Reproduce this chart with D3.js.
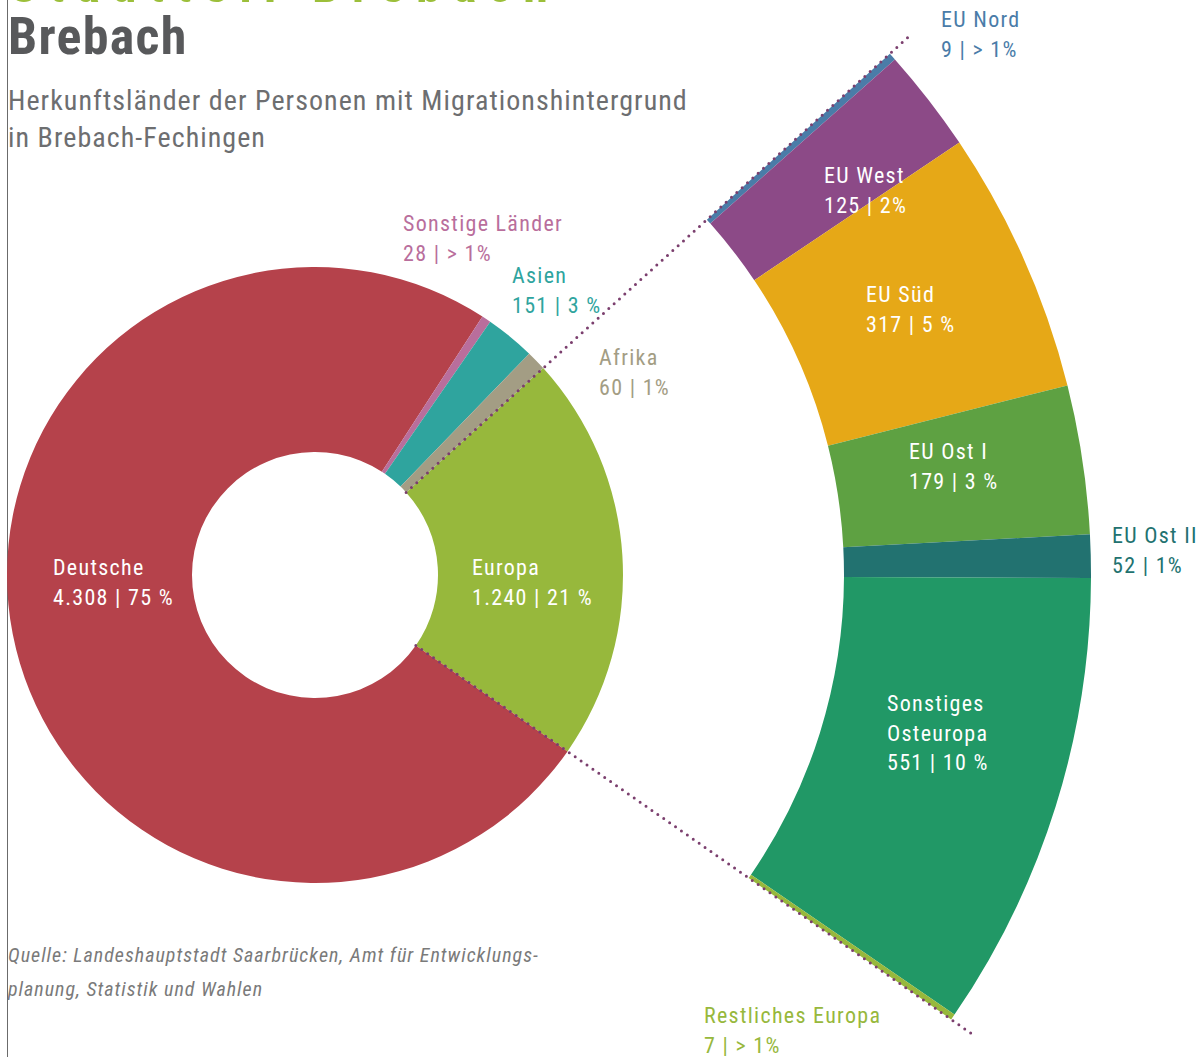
<!DOCTYPE html>
<html>
<head>
<meta charset="utf-8">
<script src="https://cdnjs.cloudflare.com/ajax/libs/d3/7.8.5/d3.min.js"></script>
<style>
  body { margin: 0; background: #fff; }
  svg { display: block; }
  svg text { font-family: "Liberation Sans Narrow", "Roboto Condensed", Roboto, sans-serif; }
</style>
</head>
<body>
<div id="chart"></div>
<script>
// inner ring: Herkunft
var herkunft = ["Europa", "Deutsche", "Sonstige Länder", "Asien", "Afrika"];
var herkunftWerte = [1240, 4308, 28, 151, 60];
var herkunftProzent = ["21 %", "75 %", "> 1%", "3 %", "1%"];
var herkunftZahl = ["1.240", "4.308", "28", "151", "60"];

// outer ring: Europa aufgeteilt
var europa = ["EU Nord", "EU West", "EU Süd", "EU Ost I", "EU Ost II", "Sonstiges Osteuropa", "Restliches Europa"];
var europaWerte = [9, 125, 317, 179, 52, 551, 7];
var europaProzent = ["> 1%", "2%", "5 %", "3 %", "1%", "10 %", "> 1%"];

var farbeInnen = ["#97b83c", "#b5424b", "#b96e9c", "#2fa49e", "#a39d84"];
var farbeAussen = ["#4a7ca8", "#8c4a87", "#e6a817", "#5ea142", "#227270", "#219866", "#97b83c"];

var width = 1202, height = 1057;
var cx = 315, cy = 575;
var deg = Math.PI / 180;

var svg = d3.select("#chart").append("svg")
  .attr("width", width)
  .attr("height", height);

// left rule
svg.append("line")
  .attr("x1", 7.5).attr("x2", 7.5)
  .attr("y1", 0).attr("y2", height)
  .attr("stroke", "#6b6b6b")
  .attr("stroke-width", 1);

// headline above, cut off by the page edge
svg.append("text")
  .text("Stadtteil Brebach")
  .attr("x", 10).attr("y", 1.5)
  .attr("font-size", 50).attr("font-weight", "bold")
  .attr("letter-spacing", 12)
  .attr("fill", "#9cbf3a");

svg.append("text")
  .text("Brebach")
  .attr("x", 8).attr("y", 54)
  .attr("font-size", 52).attr("font-weight", "bold")
  .attr("letter-spacing", 1.3)
  .attr("fill", "#58595b");

svg.selectAll(".sub")
  .data(["Herkunftsländer der Personen mit Migrationshintergrund", "in Brebach-Fechingen"])
  .enter().append("text")
  .attr("class", "sub")
  .text(function(d) { return d; })
  .attr("x", 8)
  .attr("y", function(d, i) { return 110 + i * 37; })
  .attr("font-size", 28)
  .attr("letter-spacing", 1.05)
  .attr("fill", "#6d6e70");

svg.selectAll(".quelle")
  .data(["Quelle: Landeshauptstadt Saarbrücken, Amt für Entwicklungs-", "planung, Statistik und Wahlen"])
  .enter().append("text")
  .attr("class", "quelle")
  .text(function(d) { return d; })
  .attr("x", 8)
  .attr("y", function(d, i) { return 962 + i * 34; })
  .attr("font-size", 20)
  .attr("font-style", "italic")
  .attr("letter-spacing", 1)
  .attr("fill", "#7a7a7a");

var pie = d3.pie().sort(null)
  .startAngle(47.8 * deg)
  .endAngle((47.8 + 360) * deg);

var innen = pie(herkunftWerte);
var eu = innen[0];

var pieAussen = d3.pie().sort(null)
  .startAngle(eu.startAngle)
  .endAngle(eu.endAngle);
var aussen = pieAussen(europaWerte);

var arcInnen = d3.arc().innerRadius(123).outerRadius(308);
var arcAussen = d3.arc().innerRadius(529).outerRadius(776);

var g = svg.append("g").attr("transform", "translate(" + cx + "," + cy + ")");

g.selectAll(".innen")
  .data(innen)
  .enter().append("path")
  .attr("class", "innen")
  .attr("d", arcInnen)
  .attr("fill", function(d, i) { return farbeInnen[i]; });

g.selectAll(".aussen")
  .data(aussen)
  .enter().append("path")
  .attr("class", "aussen")
  .attr("d", arcAussen)
  .attr("fill", function(d, i) { return farbeAussen[i]; });

// dotted rays along the Europa slice
[eu.startAngle, eu.endAngle].forEach(function(a) {
  g.append("line")
    .attr("x1", 123 * Math.sin(a)).attr("y1", -123 * Math.cos(a))
    .attr("x2", 800 * Math.sin(a)).attr("y2", -800 * Math.cos(a))
    .attr("stroke", "#7b3f6e")
    .attr("stroke-width", 3)
    .attr("stroke-linecap", "round")
    .attr("stroke-dasharray", "0,7.2");
});

// label layout
var posInnen = [[472, 575, "#fff"], [53, 575, "#fff"], [403, 231, "#b96e9c"], [512, 283, "#2fa49e"], [599, 365, "#a39d84"]];
var posAussen = [[941, 27, "#4a7ca8"], [824, 183, "#fff"], [866, 302, "#fff"], [909, 459, "#fff"],
                 [1112, 543, "#227270"], [887, 711, "#fff"], [704, 1023, "#97b83c"]];

function label(lines, p) {
  var t = svg.append("text")
    .attr("x", p[0]).attr("y", p[1])
    .attr("font-size", 22)
    .attr("letter-spacing", 1.3)
    .attr("fill", p[2]);
  lines.forEach(function(l, i) {
    t.append("tspan").attr("x", p[0]).attr("y", p[1] + i * 29.5).text(l);
  });
}

herkunft.forEach(function(n, i) {
  label([n, herkunftZahl[i] + " | " + herkunftProzent[i]], posInnen[i]);
});
europa.forEach(function(n, i) {
  var lines = n == "Sonstiges Osteuropa" ? ["Sonstiges", "Osteuropa"] : [n];
  lines.push(europaWerte[i] + " | " + europaProzent[i]);
  label(lines, posAussen[i]);
});
</script>
</body>
</html>
